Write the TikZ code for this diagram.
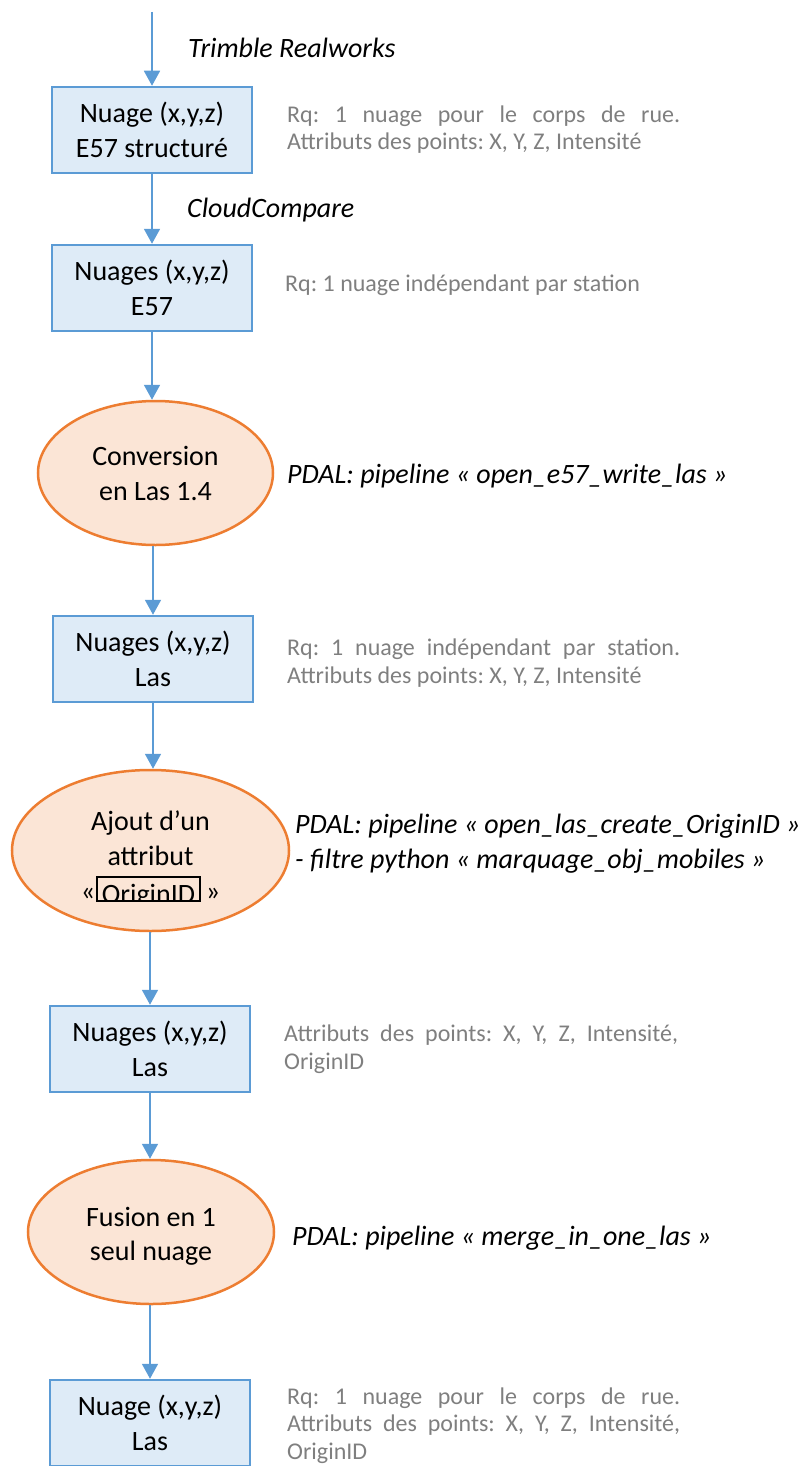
\documentclass[tikz,border=0pt]{standalone}
\usepackage{fontspec}
\setmainfont{Carlito}
\usetikzlibrary{arrows.meta,shapes.geometric}
\definecolor{boxfill}{HTML}{DEEBF7}
\definecolor{boxline}{HTML}{5B9BD5}
\definecolor{ellfill}{HTML}{FBE5D6}
\definecolor{ellline}{HTML}{ED7D31}
\definecolor{notegray}{HTML}{7F7F7F}
\begin{document}
\begin{tikzpicture}[x=1pt,y=-1pt,
  stepbox/.style={draw=boxline, fill=boxfill, line width=2.5pt, minimum width=200pt, minimum height=86pt, inner sep=0pt, align=center, font=\fontsize{28}{35}\selectfont},
  proc/.style={ellipse, draw=ellline, fill=ellfill, line width=2.5pt, inner sep=0pt, align=center, font=\fontsize{28}{35}\selectfont},
  elltext/.style={anchor=base, inner sep=0pt, font=\fontsize{28}{35}\selectfont},
  flow/.style={draw=boxline, line width=1.8pt, -{Triangle[length=15pt,width=16pt]}},
  tool/.style={anchor=base west, inner sep=0pt, font=\fontsize{28}{35}\selectfont\itshape, align=left},
  note/.style={anchor=base west, inner sep=0pt, text=notegray, font=\fontsize{24}{27.5}\selectfont\frenchspacing, align=left},
]
\useasboundingbox (0,0) rectangle (803,1466);

% process chain
\node[stepbox] (b1) at (152,130) {Nuage (x,y,z)\\E57 structuré};
\node[stepbox] (b2) at (152,288) {Nuages (x,y,z)\\E57};
\node[proc, minimum width=235pt, minimum height=144pt] (e1) at (155.5,473) {Conversion\\en Las 1.4};
\node[stepbox] (b3) at (153,659) {Nuages (x,y,z)\\Las};
\node[proc, minimum width=277pt, minimum height=161pt] (e2) at (150.5,850.5) {};
\node[elltext] (e2a) at (150.5,830) {Ajout d’un};
\node[elltext] (e2b) at (150.5,865) {attribut};
\node[elltext] (e2q1) at (88,900) {«};
\node[elltext] (e2q2) at (213,900) {»};
\begin{scope}
  \clip (97,877) rectangle (200,900);
  \node[elltext] (e2c) at (148.5,903) {OriginID};
\end{scope}
\node[draw=black, line width=1.2pt, minimum width=103pt, minimum height=24pt, inner sep=0pt] (e2frame) at (148.5,889) {};
\node[stepbox] (b4) at (150,1049) {Nuages (x,y,z)\\Las};
\node[proc, minimum width=246pt, minimum height=144pt] (e3) at (151,1232) {};
\node[elltext] (e3a) at (151,1226) {Fusion en 1};
\node[elltext] (e3b) at (151,1260) {seul nuage};
\node[stepbox] (b5) at (150,1423) {Nuage (x,y,z)\\Las};

% connectors
\coordinate (top) at (152,12);
\draw[flow] (top) -- (top |- b1.north);
\draw[flow] (b1.south) -- (b2.north);
\draw[flow] (b2.south) -- (b2.south |- e1.north);
\draw[flow] (b3.north |- e1.south) -- (b3.north);
\draw[flow] (b3.south) -- (b3.south |- e2.north);
\draw[flow] (b4.north |- e2.south) -- (b4.north);
\draw[flow] (b4.south) -- (b4.south |- e3.north);
\draw[flow] (b5.north |- e3.south) -- (b5.north);

% tool labels
\node[tool] (t1) at (188,58) {Trimble Realworks};
\node[tool] (t2) at (187,217) {CloudCompare};
\node[tool] (t3) at (287,483) {PDAL: pipeline « open\_e57\_write\_las »};
\node[tool] (t4) at (295,868) {PDAL: pipeline « open\_las\_create\_OriginID »\\- filtre python « marquage\_obj\_mobiles »};
\node[tool] (t5) at (292,1245) {PDAL: pipeline « merge\_in\_one\_las »};

% notes (anchor = baseline of the last line)
\node[note] (n1) at (287,150) {\makebox[393pt][s]{Rq: 1 nuage pour le corps de rue.}\\Attributs des points: X, Y, Z, Intensité};
\node[note] (n2) at (285,291) {Rq: 1 nuage indépendant par station};
\node[note] (n3) at (287,683) {\makebox[393pt][s]{Rq: 1 nuage indépendant par station.}\\Attributs des points: X, Y, Z, Intensité};
\node[note] (n4) at (284,1069) {\makebox[394pt][s]{Attributs des points: X, Y, Z, Intensité,}\\OriginID};
\node[note] (n5) at (287,1459) {\makebox[393pt][s]{Rq: 1 nuage pour le corps de rue.}\\\makebox[393pt][s]{Attributs des points: X, Y, Z, Intensité,}\\OriginID};
\end{tikzpicture}
\end{document}
